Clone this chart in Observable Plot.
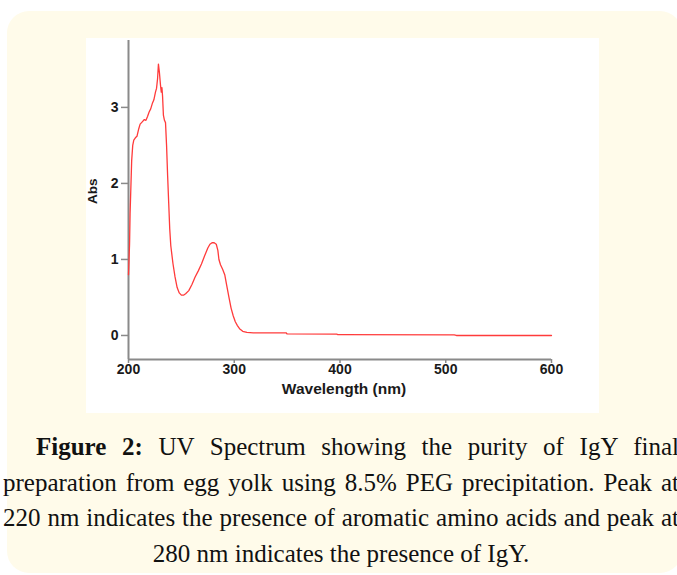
<!DOCTYPE html>
<html>
<head>
<meta charset="utf-8">
<script src="https://cdn.jsdelivr.net/npm/d3@7"></script>
<script src="https://cdn.jsdelivr.net/npm/@observablehq/plot@0.6"></script>
<style>
  html, body { margin: 0; padding: 0; background: #ffffff; }
  body { width: 677px; height: 575px; position: relative; overflow: hidden; }
  #panel { position: absolute; left: 7px; top: 11px; width: 675px; height: 562px;
           border-radius: 22px; background: #fffbea; }
  #chart { position: absolute; left: 86px; top: 38px; width: 513px; height: 375px; background: #ffffff; }
  #caption { position: absolute; left: 3px; top: 429px; width: 676px;
             font-family: "Liberation Serif", "Times New Roman", serif; font-size: 25px;
             line-height: 35.5px; color: #111; }
  #caption .ln { white-space: nowrap; text-align: justify; text-align-last: justify; }
  #caption .first { text-indent: 33px; }
  #caption .last { text-align: center; text-align-last: center; }
</style>
</head>
<body>
<div id="panel"></div>
<div id="chart"></div>
<div id="caption"></div>
<script>
// ---- data ----
const wavelength = [200, 201, 201.5, 203, 204, 205, 206.5, 208, 209.7, 211, 213, 215, 216.5, 218, 219.5, 221, 222.5, 224, 225.5, 226.5, 227.5, 228.3, 229.3, 230.2, 231, 231.6, 232.2, 233, 234, 235, 236, 237, 238, 239, 240, 242, 244, 246, 248, 250, 252, 254, 257, 260, 263, 266, 269, 272, 275, 277, 279, 281, 283, 284.5, 285.5, 287, 289, 291, 293, 295, 297, 299, 301, 303, 305, 308, 312, 318, 349, 350, 397, 398, 508, 510, 600];
const absorbance = [0.80, 1.2, 1.6, 2.3, 2.5, 2.57, 2.6, 2.62, 2.72, 2.78, 2.81, 2.84, 2.83, 2.88, 2.94, 2.98, 3.05, 3.1, 3.2, 3.25, 3.38, 3.57, 3.45, 3.3, 3.2, 3.26, 3.15, 2.9, 2.83, 2.8, 2.5, 2.1, 1.75, 1.4, 1.18, 0.95, 0.77, 0.63, 0.56, 0.53, 0.53, 0.55, 0.59, 0.67, 0.77, 0.85, 0.94, 1.05, 1.15, 1.2, 1.22, 1.22, 1.2, 1.12, 1.0, 0.93, 0.87, 0.8, 0.65, 0.5, 0.36, 0.26, 0.18, 0.13, 0.09, 0.055, 0.04, 0.035, 0.035, 0.02, 0.018, 0.01, 0.008, 0.0, 0.0];
const xTicks = [200, 300, 400, 500, 600];
const yTicks = [0, 1, 2, 3];
const xDomain = [200, 600];
const yDomain = [-0.316, 3.88];
const xLabel = "Wavelength (nm)";
const yLabel = "Abs";
const captionBold = "Figure 2:";
const captionLines = [
  " UV Spectrum showing the purity of IgY final",
  "preparation from egg yolk using 8.5% PEG precipitation. Peak at",
  "220 nm indicates the presence of aromatic amino acids and peak at",
  "280 nm indicates the presence of IgY."
];

const data = wavelength.map((w, i) => ({w, a: absorbance[i]}));
const axisGray = "#8a8a8a";
const ink = "#1a1a1a";
const font = "'Liberation Sans', Arial, sans-serif";

const plot = Plot.plot({
  width: 513,
  height: 375,
  marginLeft: 42,
  marginRight: 48,
  marginTop: 2,
  marginBottom: 54,
  x: {domain: xDomain},
  y: {domain: yDomain},
  style: {background: "#ffffff", fontFamily: font, fontWeight: "bold", color: ink},
  marks: [
    Plot.axisX(xTicks, {tickSize: 4, stroke: axisGray, strokeWidth: 1.5, tickFormat: () => "", label: null}),
    Plot.axisY(yTicks, {tickSize: 7, stroke: axisGray, strokeWidth: 1.5, tickFormat: () => "", label: null}),
    Plot.ruleX([xDomain[0]], {stroke: axisGray, strokeWidth: 2}),
    Plot.ruleY([yDomain[0]], {x1: xDomain[0], x2: xDomain[1], stroke: axisGray, strokeWidth: 2}),
    Plot.text(xTicks, {x: d => d, y: yDomain[0], text: d => String(d), dy: 10, fontSize: 14, fontWeight: "bold", fill: ink}),
    Plot.text(yTicks, {x: xDomain[0], y: d => d, text: d => String(d), dx: -10, dy: 0.5, textAnchor: "end", fontSize: 14, fontWeight: "bold", fill: ink}),
    Plot.line(data, {x: "w", y: "a", stroke: "#ff3b3b", strokeWidth: 1.3}),
    Plot.text([xLabel], {frameAnchor: "bottom", text: d => d, dy: 34, dx: 4, fontSize: 15.5, fontWeight: "bold", fill: ink}),
    Plot.text([yLabel], {frameAnchor: "left", text: d => d, dx: -36, dy: 4, rotate: -90, fontSize: 13.5, fontWeight: "bold", fill: ink})
  ]
});
document.getElementById("chart").appendChild(plot);

const cap = document.getElementById("caption");
captionLines.forEach((t, i) => {
  const div = document.createElement("div");
  div.className = "ln" + (i === 0 ? " first" : "") + (i === captionLines.length - 1 ? " last" : "");
  if (i === 0) {
    const b = document.createElement("b");
    b.textContent = captionBold;
    div.appendChild(b);
  }
  div.appendChild(document.createTextNode(t));
  cap.appendChild(div);
});
</script>
</body>
</html>
